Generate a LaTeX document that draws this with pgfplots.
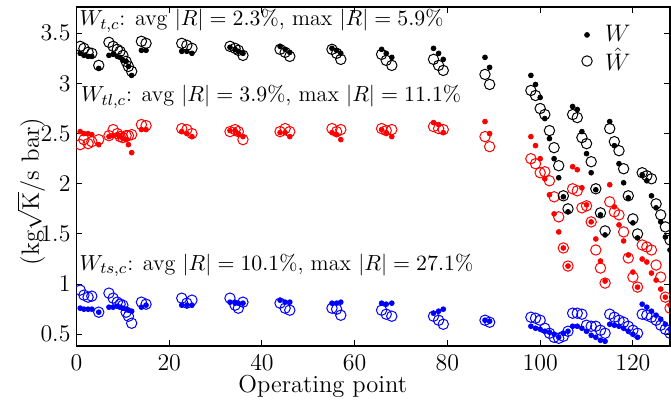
\documentclass[border=0pt]{standalone}
\usepackage{pgfplots}
\usepackage{pgfplotstable}
\pgfplotsset{compat=1.18}
\pgfplotstableread{
x wt wth wtl wtlh wts wtsh
0.8 3.30 3.37 2.52 2.39 0.76 0.94
1.6 3.28 3.35 2.50 2.44 0.75 0.89
2.5 3.27 3.31 2.50 2.40 0.75 0.87
3.3 3.27 3.30 2.49 2.42 0.75 0.88
4.8 3.15 3.18 2.39 2.44 0.72 0.72
7.0 3.28 3.41 2.47 2.48 0.77 0.91
7.9 3.29 3.37 2.48 2.54 0.77 0.86
8.8 3.27 3.34 2.49 2.50 0.78 0.82
9.4 3.26 3.32 2.47 2.47 0.77 0.80
10.0 3.23 3.28 2.45 2.46 0.76 0.79
10.7 3.22 3.22 2.44 2.48 0.75 0.72
11.2 3.17 3.17 2.39 2.48 0.74 0.68
11.9 3.08 3.12 2.31 2.49 0.73 0.61
14.0 3.33 3.42 2.54 2.59 0.77 0.82
15.0 3.33 3.40 2.54 2.58 0.79 0.80
22.7 3.32 3.40 2.52 2.55 0.79 0.86
23.8 3.32 3.38 2.50 2.54 0.79 0.81
24.9 3.30 3.35 2.47 2.50 0.79 0.84
33.1 3.36 3.37 2.53 2.52 0.82 0.86
34.2 3.34 3.35 2.53 2.54 0.81 0.79
34.9 3.32 3.33 2.50 2.52 0.81 0.76
35.9 3.30 3.28 2.47 2.44 0.81 0.82
43.9 3.37 3.34 2.51 2.52 0.84 0.81
45.0 3.34 3.31 2.51 2.55 0.82 0.76
46.0 3.31 3.27 2.47 2.52 0.82 0.74
55.1 3.35 3.34 2.51 2.55 0.81 0.76
56.1 3.33 3.30 2.49 2.52 0.81 0.75
57.0 3.30 3.24 2.44 2.54 0.82 0.69
65.8 3.34 3.29 2.54 2.55 0.81 0.74
66.8 3.30 3.23 2.51 2.53 0.80 0.70
68.0 3.26 3.18 2.47 2.54 0.81 0.68
77.0 3.35 3.24 2.61 2.57 0.71 0.68
78.1 3.30 3.18 2.59 2.55 0.73 0.64
79.1 3.24 3.13 2.51 2.54 0.75 0.60
88.1 3.26 3.09 2.62 2.47 0.64 0.64
89.1 3.16 2.99 2.50 2.37 0.63 0.62
98 3.08 2.93 2.47 2.25 0.58 0.67
99 2.99 2.88 2.38 2.20 0.56 0.66
100 2.86 2.75 2.25 2.11 0.55 0.64
101 2.65 2.69 2.05 2.12 0.53 0.56
102 2.45 2.53 1.89 2.03 0.52 0.51
103 2.25 2.36 1.70 1.87 0.50 0.47
104 2.06 2.18 1.52 1.67 0.47 0.46
105 1.87 1.88 1.36 1.36 0.51 0.48
106 1.72 1.75 1.18 1.18 0.53 0.53
107 2.77 2.69 2.17 1.95 0.58 0.71
108 2.74 2.66 2.14 1.93 0.58 0.71
109 2.52 2.46 1.96 1.76 0.56 0.70
110 2.30 2.40 1.79 1.78 0.53 0.59
111 2.11 2.22 1.62 1.62 0.49 0.58
112 1.94 1.95 1.45 1.34 0.47 0.58
113 1.69 1.71 1.23 1.16 0.44 0.54
114 1.49 1.53 1.03 1.01 0.43 0.51
115 2.62 2.55 1.99 1.82 0.60 0.70
116 2.38 2.42 1.77 1.72 0.59 0.67
117 2.20 2.33 1.59 1.69 0.58 0.64
118 2.01 2.15 1.43 1.52 0.56 0.62
119 1.86 1.88 1.29 1.26 0.53 0.58
120 1.61 1.65 1.12 1.07 0.50 0.54
121 1.46 1.50 0.97 0.97 0.47 0.51
122 2.09 2.11 1.25 1.39 0.80 0.70
123 2.03 2.08 1.22 1.37 0.77 0.69
124 1.88 2.05 1.11 1.34 0.73 0.67
125 1.76 1.80 1.04 1.19 0.69 0.64
126 1.62 1.69 0.95 1.07 0.65 0.59
127 1.47 1.57 0.87 0.87 0.60 0.55
128 1.34 1.44 0.79 0.76 0.55 0.51
}\data
\begin{document}
\begin{tikzpicture}
\useasboundingbox (-38.25bp,-29.5bp) rectangle (297.25bp,173bp);
\begin{axis}[
  at={(0,0)}, anchor=south west,
  scale only axis, width=296.75bp, height=169.5bp,
  xmin=0, xmax=128, ymin=0.383, ymax=3.762,
  xtick={0,20,...,120}, ytick={0.5,1,1.5,2,2.5,3,3.5},
  major tick length=3bp, tick style={black, line width=0.5bp},
  axis line style={line width=0.6bp},
  ticklabel style={font=\fontsize{11.5}{13}\selectfont},
  xticklabel style={yshift=-1bp},
  yticklabel style={xshift=0.5bp},
  xlabel={Operating point}, ylabel={(kg$\sqrt{\mathrm{K}}$/s bar)},
  xlabel style={font=\fontsize{12.3}{14}\selectfont, at={(axis description cs:0.415,0)}, anchor=center, yshift=-20bp},
  ylabel style={font=\fontsize{12.5}{14}\selectfont, at={(axis description cs:-0.0765,0.456)}, anchor=center},
  clip marker paths=true,
  legend style={draw=none, fill=none, at={(0.946,0.962)}, anchor=north east,
    font=\fontsize{12}{14}\selectfont, row sep=0.8bp, nodes={inner sep=0.5bp},
    /tikz/every odd column/.append style={column sep=6bp}},
  legend cell align=left,
]
\addplot[forget plot, only marks, mark=o, mark size=2.6bp, blue, mark options={line width=0.5bp}] table[x=x,y=wtsh]{\data};
\addplot[forget plot, only marks, mark=*, mark size=1.2bp, blue] table[x=x,y=wts]{\data};
\addplot[forget plot, only marks, mark=o, mark size=2.6bp, red, mark options={line width=0.5bp}] table[x=x,y=wtlh]{\data};
\addplot[forget plot, only marks, mark=*, mark size=1.2bp, red] table[x=x,y=wtl]{\data};
\addplot[only marks, mark=*, mark size=1.2bp, black] table[x=x,y=wt]{\data};
\addlegendentry{$W$}
\addplot[only marks, mark=o, mark size=2.6bp, black, mark options={line width=0.5bp}] table[x=x,y=wth]{\data};
\addlegendentry{$\hat{W}$}
\node[anchor=base west, inner sep=0pt, font=\fontsize{11.1}{13}\selectfont] at (axis cs:0.6,3.573) {$W_{t,c}$: avg $|R| = 2.3\%$, max $|R| = 5.9\%$};
\node[anchor=base west, inner sep=0pt, font=\fontsize{11.1}{13}\selectfont] at (axis cs:0.9,2.818) {$W_{tl,c}$: avg $|R| = 3.9\%$, max $|R| = 11.1\%$};
\node[anchor=base west, inner sep=0pt, font=\fontsize{11.1}{13}\selectfont] at (axis cs:0.6,1.14) {$W_{ts,c}$: avg $|R| = 10.1\%$, max $|R| = 27.1\%$};
\end{axis}
\end{tikzpicture}
\end{document}
